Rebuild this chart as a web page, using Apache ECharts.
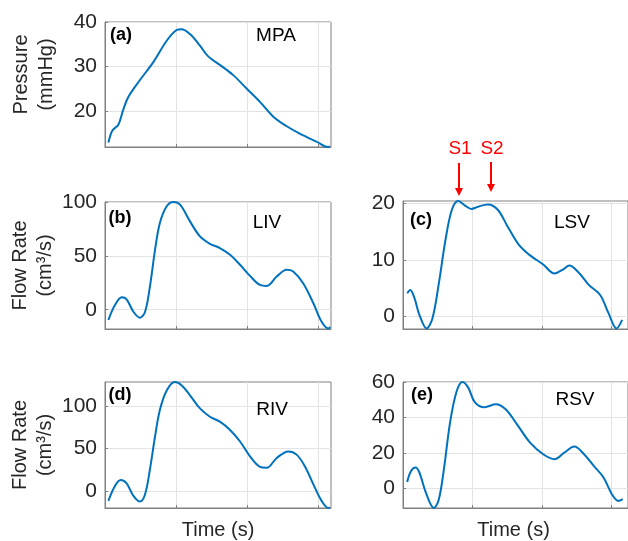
<!DOCTYPE html>
<html lang="en">
<head>
<meta charset="UTF-8">
<title>MPA / LIV / LSV / RIV / RSV</title>
<script src="https://cdn.jsdelivr.net/npm/echarts@6/dist/echarts.min.js"></script>
<style>
    html, body { margin: 0; padding: 0; background: #fff; }
    #main { width: 628px; height: 541px; }
</style>
</head>
<body>
<div id="main"></div>
<script>
// (a) MPA pressure, mmHg
var tA = [0.012,0.026,0.047,0.064,0.082,0.123,0.170,0.217,0.252,0.269,0.299,0.334,0.363,0.404,0.451,0.498,0.545,0.592,0.638,0.685,0.744,0.785,0.791];
var vA = [13.0,15.7,17.0,20.3,23.2,27.0,31.0,35.8,38.2,38.4,37.3,34.7,32.3,30.4,28.1,25.1,22.1,18.8,16.7,15.0,13.2,12.0,12.1];
// (b) LIV flow rate
var tB = [0.012,0.035,0.059,0.076,0.100,0.123,0.141,0.158,0.176,0.193,0.217,0.240,0.264,0.299,0.334,0.369,0.404,0.440,0.475,0.510,0.545,0.569,0.604,0.639,0.662,0.697,0.733,0.762,0.786,0.792];
var vB = [-9.6,4.4,11.6,9.7,-1.9,-7.5,-1.9,21.5,55.9,80.9,96.5,100.5,98,82.4,68.4,61.5,57.5,51.2,41.9,31.6,23.1,22.2,30.9,37.2,35.6,24.7,6.0,-11.2,-17.5,-16];
// (c) LSV flow rate
var tC = [0.015,0.026,0.041,0.059,0.085,0.106,0.129,0.153,0.176,0.199,0.223,0.246,0.270,0.305,0.340,0.375,0.416,0.457,0.504,0.545,0.575,0.598,0.633,0.668,0.709,0.739,0.768,0.788];
var vC = [4.1,4.7,3.3,0.3,-2.1,-0.3,5.9,13.6,18.9,20.4,19.6,19.0,19.4,19.8,18.9,16.0,12.7,10.8,9.2,7.6,8.3,9.0,7.7,5.6,3.8,0.6,-2.1,-0.6];
// (d) RIV flow rate
var tD = [0.012,0.035,0.055,0.076,0.100,0.123,0.141,0.158,0.176,0.193,0.217,0.246,0.270,0.299,0.334,0.369,0.404,0.440,0.475,0.510,0.545,0.569,0.604,0.645,0.674,0.703,0.733,0.762,0.786,0.791];
var vD = [-11.6,5.8,12.8,9.0,-5.8,-12.4,-3.8,25.2,64,95,118,127.9,124,112.4,97,87.2,81.4,71.7,58.1,40.7,28.3,27.2,38.8,46.5,42.7,29.1,7.8,-11.6,-20,-19];
// (e) RSV flow rate
var tE = [0.015,0.029,0.045,0.059,0.082,0.111,0.129,0.147,0.170,0.193,0.214,0.235,0.258,0.293,0.334,0.369,0.410,0.457,0.504,0.545,0.580,0.616,0.651,0.686,0.721,0.751,0.774,0.790];
var vE = [3.7,9.9,11.8,9.0,-2.2,-11.0,-6.0,10.8,38,54.8,60,56.7,48.7,45.8,47.4,44.6,36.1,25.8,19.3,16.5,20.2,23.6,19.3,12.7,6.2,-3.2,-7.0,-6];

var xTicks = [0.25, 0.5, 0.75];
var yTicksA = [20, 30, 40];
var yTicksB = [0, 50, 100];
var yTicksC = [0, 10, 20];
var yTicksD = [0, 50, 100];
var yTicksE = [0, 20, 40, 60];

var panelTags = ['(a)', '(b)', '(c)', '(d)', '(e)'];
var panelNames = ['MPA', 'LIV', 'LSV', 'RIV', 'RSV'];
var peakTags = ['S1', 'S2'];

var FONT = '"Liberation Sans", Arial, Helvetica, sans-serif';
var TXT = '#262626';
var BOX = '#808080';
var BLUE = '#0072BD';

function zip(t, v) {
    var out = [];
    for (var i = 0; i < t.length; i++) out.push([t[i], v[i]]);
    return out;
}

// right column runs off the page edge, so its box is a bit wider (same px per second)
var grids = [
    {left: 105, top: 22,  width: 226, height: 125},
    {left: 105, top: 202, width: 226, height: 127},
    {left: 403, top: 201, width: 230, height: 128},
    {left: 105, top: 382, width: 226, height: 127},
    {left: 403, top: 382, width: 230, height: 127}
];
grids.forEach(function (g) {
    g.show = true;
    g.borderColor = BOX;
    g.borderWidth = 1;
    g.containLabel = false;
});

function xAx(i, withName, xmax, nameShift) {
    return {
        type: 'value', gridIndex: i, min: 0, max: xmax,
        name: withName ? 'Time (s)' : '',
        nameLocation: 'middle', nameGap: 12,
        nameTextStyle: {fontFamily: FONT, fontSize: 20, color: TXT, verticalAlign: 'top',
            padding: nameShift ? [0, nameShift, 0, 0] : 0},
        axisLine: {show: true, onZero: false, lineStyle: {color: BOX}},
        axisTick: {show: true, inside: true, length: 3, customValues: xTicks, lineStyle: {color: BOX}},
        axisLabel: {show: false},
        splitLine: {show: true, lineStyle: {color: '#e3e3e3', width: 1}}
    };
}

function yAx(i, lo, hi, ticks, name, pad) {
    return {
        type: 'value', gridIndex: i, min: lo, max: hi,
        name: name || '',
        nameLocation: 'middle', nameRotate: 90, nameGap: 46,
        nameTextStyle: {fontFamily: FONT, fontSize: 20, color: TXT, lineHeight: 25, padding: pad || 0},
        axisLine: {show: true, onZero: false, lineStyle: {color: BOX}},
        axisTick: {show: true, inside: true, length: 3, customValues: ticks, lineStyle: {color: BOX}},
        axisLabel: {customValues: ticks, margin: 8, fontFamily: FONT, fontSize: 21, color: TXT},
        splitLine: {show: true, lineStyle: {color: '#e3e3e3', width: 1}}
    };
}

function line(i, t, v) {
    return {
        type: 'line', xAxisIndex: i, yAxisIndex: i,
        data: zip(t, v), smooth: 0.35, showSymbol: false,
        lineStyle: {color: BLUE, width: 2}, silent: true, animation: false
    };
}

// panel tag + vessel name, placed in pixels inside each box
var tagPos = [[121, 35], [120, 218], [421, 220], [120, 395], [422, 395]];
var namePos = [[276, 36], [267, 223], [572, 223], [272, 410], [575, 400]];
var graphics = [];
for (var k = 0; k < 5; k++) {
    graphics.push({type: 'text', x: tagPos[k][0], y: tagPos[k][1], z: 10,
        style: {text: panelTags[k], font: 'bold 18px ' + FONT, fill: '#000', align: 'center', verticalAlign: 'middle'}});
    graphics.push({type: 'text', x: namePos[k][0], y: namePos[k][1], z: 10,
        style: {text: panelNames[k], font: '19px ' + FONT, fill: '#000', align: 'center', verticalAlign: 'middle'}});
}

// S1 / S2 arrows over panel (c)
var arrowX = [459, 491];
var arrowTop = [163, 162];
var arrowTip = [196, 192];
for (var j = 0; j < 2; j++) {
    graphics.push({type: 'text', x: arrowX[j] + 1, y: 149, z: 10,
        style: {text: peakTags[j], font: '19px ' + FONT, fill: '#ff0000', align: 'center', verticalAlign: 'middle'}});
    graphics.push({type: 'line', z: 10,
        shape: {x1: arrowX[j], y1: arrowTop[j], x2: arrowX[j], y2: arrowTip[j] - 6},
        style: {stroke: '#ff0000', lineWidth: 2}});
    graphics.push({type: 'polygon', z: 10,
        shape: {points: [[arrowX[j] - 4, arrowTip[j] - 8], [arrowX[j] + 4, arrowTip[j] - 8], [arrowX[j], arrowTip[j]]]},
        style: {fill: '#ff0000'}});
}

var xmaxL = 0.795;
var xmaxR = 0.795 * 230 / 226;

var myChart = echarts.init(document.getElementById('main'), null, {renderer: 'canvas'});
var option = {
    backgroundColor: '#fff',
    animation: false,
    grid: grids,
    xAxis: [xAx(0, false, xmaxL), xAx(1, false, xmaxL), xAx(2, false, xmaxR),
            xAx(3, true, xmaxL), xAx(4, true, xmaxR, 4)],
    yAxis: [
        yAx(0, 12, 40, yTicksA, 'Pressure\n(mmHg)', [0, 0, 0, 20]),
        yAx(1, -18, 100.5, yTicksB, 'Flow Rate\n(cm³/s)'),
        yAx(2, -2.2, 20.4, yTicksC),
        yAx(3, -20, 128, yTicksD, 'Flow Rate\n(cm³/s)'),
        yAx(4, -11, 60, yTicksE)
    ],
    series: [line(0, tA, vA), line(1, tB, vB), line(2, tC, vC), line(3, tD, vD), line(4, tE, vE)],
    graphic: graphics
};
myChart.setOption(option);
</script>
</body>
</html>
